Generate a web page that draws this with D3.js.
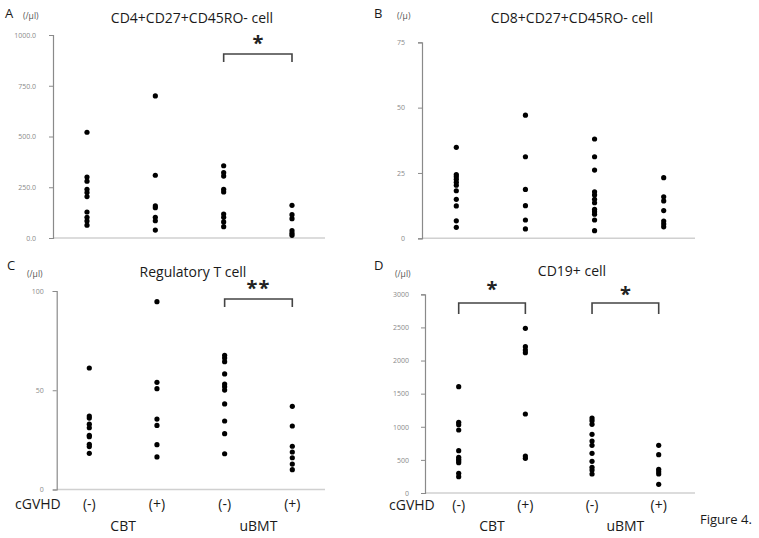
<!DOCTYPE html>
<html><head><meta charset="utf-8">
<script src="https://cdn.jsdelivr.net/npm/d3@7"></script>
<style>
body{margin:0;background:#fff;}
svg{display:block;}
</style></head>
<body>
<svg id="chart" width="759" height="538"></svg>
<script>
// ---- data ----
const groupKeys = ["CBT-", "CBT+", "uBMT-", "uBMT+"];
const cgvhdLabels = ["(-)", "(+)", "(-)", "(+)"];
const transplantLabels = ["CBT", "uBMT"];

const cd4Ticks = [0, 250, 500, 750, 1000];
const cd4Values = [
  [521, 300, 280, 240, 224, 204, 128, 102, 84, 63],
  [700, 309, 158, 149, 102, 85, 39],
  [356, 322, 305, 240, 227, 118, 102, 79, 56],
  [161, 115, 95, 36, 23, 13]
];

const cd8Ticks = [0, 25, 50, 75];
const cd8Values = [
  [34.8, 24.4, 23.6, 22.6, 21.4, 20.3, 18.2, 14.9, 12.4, 6.7, 4.2],
  [47.1, 31.2, 18.7, 12.5, 7.0, 3.6],
  [38.0, 31.2, 26.1, 17.8, 16.6, 14.9, 13.6, 11.1, 10.2, 9.2, 7.0, 2.9],
  [23.2, 15.9, 14.3, 10.6, 6.6, 5.5, 4.4]
];

const tregTicks = [0, 50, 100];
const tregValues = [
  [61.2, 37.0, 36.0, 32.9, 31.1, 27.3, 26.6, 22.8, 21.6, 18.2],
  [94.6, 54.0, 50.8, 35.5, 32.3, 22.6, 16.4],
  [67.6, 66.2, 64.4, 58.2, 53.1, 51.8, 50.1, 43.1, 34.5, 28.1, 18.0],
  [41.9, 32.0, 21.8, 18.9, 16.0, 12.8, 10.0]
];

const cd19Ticks = [0, 500, 1000, 1500, 2000, 2500, 3000];
const cd19Values = [
  [1605, 1067, 1031, 951, 639, 539, 509, 483, 457, 297, 246],
  [2487, 2209, 2159, 2118, 1193, 559, 524],
  [1132, 1092, 1037, 886, 785, 720, 599, 478, 388, 347, 287],
  [720, 578, 358, 322, 287, 131]
];

// significance brackets: [from group, to group, label]
const cd4Sig = [["uBMT-", "uBMT+", "*"]];
const tregSig = [["uBMT-", "uBMT+", "**"]];
const cd19Sig = [["CBT-", "CBT+", "*"], ["uBMT-", "uBMT+", "*"]];

// ---- drawing ----
const svg = d3.select("#chart");
const FONT = "'Open Sans', 'Liberation Sans', sans-serif";

function panel(cfg) {
  const g = svg.append("g");
  const y = d3.scaleLinear().domain(cfg.domain).range([cfg.y0, cfg.yTop]);
  const x = d3.scalePoint().domain(groupKeys).range([cfg.c0, cfg.c1]);

  // x axis (light line)
  g.append("line")
    .attr("x1", cfg.ax).attr("x2", cfg.axRight)
    .attr("y1", cfg.y0).attr("y2", cfg.y0)
    .attr("stroke", "#d0d0d0").attr("stroke-width", 1.5);

  // y axis
  const yAxis = d3.axisLeft(y).tickValues(cfg.ticks).tickSize(4).tickPadding(cfg.pad || 14)
    .tickFormat(cfg.fmt);
  const ag = g.append("g").attr("transform", `translate(${cfg.ax},0)`).call(yAxis);
  ag.select(".domain").attr("stroke", "#8a8a8a").attr("stroke-width", 1.2);
  ag.selectAll(".tick line").attr("stroke", "#8a8a8a");
  ag.selectAll(".tick text").attr("fill", "#8a8a8a").style("font-size", "7px")
    .style("font-family", FONT);

  // dots
  cfg.values.forEach((arr, i) => {
    g.selectAll(null).data(arr).enter().append("circle")
      .attr("cx", x(groupKeys[i])).attr("cy", d => y(d))
      .attr("r", 2.6).attr("fill", "#000");
  });

  // title
  g.append("text").attr("x", cfg.titleX).attr("y", cfg.titleY)
    .attr("text-anchor", "middle").attr("fill", "#1a1a1a")
    .style("font-family", FONT).style("font-size", "14px").text(cfg.title);
  // panel letter
  g.append("text").attr("x", cfg.letterX).attr("y", cfg.letterY)
    .attr("fill", "#1a1a1a").style("font-family", FONT).style("font-size", "13px").text(cfg.letter);
  // unit
  g.append("text").attr("x", cfg.unitX).attr("y", cfg.unitY)
    .attr("fill", "#555").style("font-family", FONT).style("font-size", "8.5px").text(cfg.unit);

  // significance brackets
  (cfg.sig || []).forEach((s, k) => {
    const xa = x(s[0]), xb = x(s[1]);
    const by = cfg.brY, bh = cfg.brH;
    g.append("path")
      .attr("d", `M${xa},${by + bh}V${by}H${xb}V${by + bh}`)
      .attr("fill", "none").attr("stroke", "#444").attr("stroke-width", 1.6);
    g.append("text").attr("x", (xa + xb) / 2).attr("y", cfg.starY[k])
      .attr("text-anchor", "middle").attr("fill", "#222")
      .style("font-family", FONT).style("font-size", "20px").style("font-weight", "bold")
      .style("letter-spacing", s[2].length > 1 ? "1px" : "0px").text(s[2]);
  });

  // bottom category labels
  if (cfg.bottom) {
    g.append("text").attr("x", cfg.bottom.cg).attr("y", cfg.bottom.y1)
      .attr("fill", "#1a1a1a").style("font-family", FONT).style("font-size", "14px").text("cGVHD");
    groupKeys.forEach((k, i) => {
      g.append("text").attr("x", x(k)).attr("y", cfg.bottom.y1)
        .attr("text-anchor", "middle").attr("fill", "#1a1a1a")
        .style("font-family", FONT).style("font-size", "14px").text(cgvhdLabels[i]);
    });
    transplantLabels.forEach((t, j) => {
      const xm = (x(groupKeys[2 * j]) + x(groupKeys[2 * j + 1])) / 2;
      g.append("text").attr("x", xm).attr("y", cfg.bottom.y2)
        .attr("text-anchor", "middle").attr("fill", "#1a1a1a")
        .style("font-family", FONT).style("font-size", "14px").text(t);
    });
  }
}

panel({
  domain: [0, 1000], ticks: cd4Ticks, fmt: d3.format(".1f"), values: cd4Values,
  ax: 53, axRight: 325, y0: 238, yTop: 35, c0: 87, c1: 292, pad: 13,
  title: "CD4+CD27+CD45RO- cell", titleX: 192, titleY: 23,
  letter: "A", letterX: 5, letterY: 18, unit: "(/μl)", unitX: 23, unitY: 19,
  sig: cd4Sig, brY: 54, brH: 8, starY: [50]
});
panel({
  domain: [0, 75], ticks: cd8Ticks, fmt: d3.format("d"), values: cd8Values,
  ax: 422, axRight: 695, y0: 238.3, yTop: 42.3, c0: 456.3, c1: 663.7, pad: 13,
  title: "CD8+CD27+CD45RO- cell", titleX: 572, titleY: 23,
  letter: "B", letterX: 374, letterY: 18, unit: "(/μ)", unitX: 397, unitY: 19
});
panel({
  domain: [0, 100], ticks: tregTicks, fmt: d3.format("d"), values: tregValues,
  ax: 56.7, axRight: 325, y0: 489.5, yTop: 291, c0: 89.3, c1: 292.3, pad: 9,
  title: "Regulatory T cell", titleX: 193, titleY: 277,
  letter: "C", letterX: 7, letterY: 270, unit: "(/μl)", unitX: 27, unitY: 277,
  sig: tregSig, brY: 299, brH: 8, starY: [295],
  bottom: { cg: 15, y1: 509, y2: 531 }
});
panel({
  domain: [0, 3000], ticks: cd19Ticks, fmt: d3.format("d"), values: cd19Values,
  ax: 425, axRight: 695, y0: 493, yTop: 294.3, c0: 458.7, c1: 658.7, pad: 12,
  title: "CD19+ cell", titleX: 572, titleY: 276,
  letter: "D", letterX: 374, letterY: 270, unit: "(/μl)", unitX: 395, unitY: 277,
  sig: cd19Sig, brY: 303, brH: 11, starY: [296, 301],
  bottom: { cg: 389, y1: 510, y2: 531 }
});

svg.append("text").attr("x", 700).attr("y", 524)
  .attr("fill", "#1a1a1a").style("font-family", FONT).style("font-size", "13px").text("Figure 4.");
</script>
</body></html>
